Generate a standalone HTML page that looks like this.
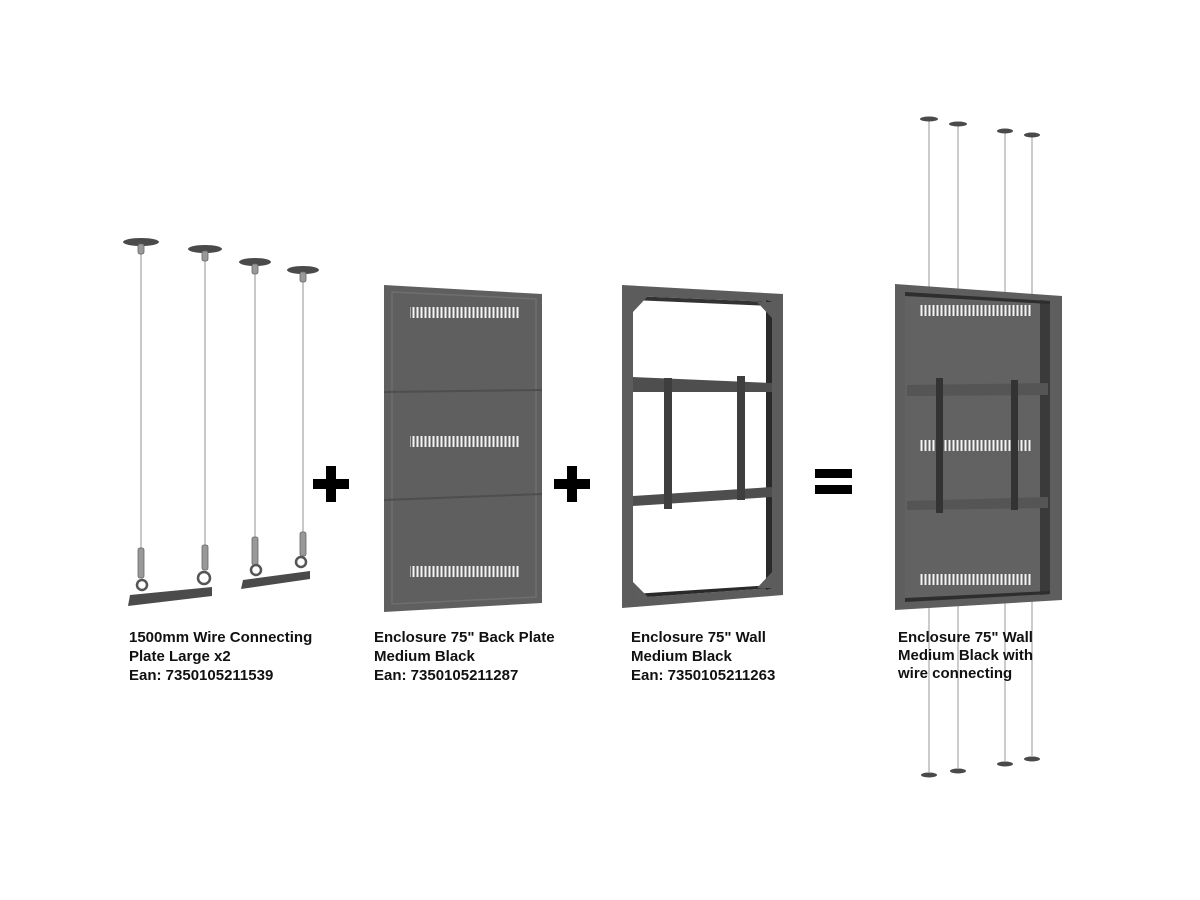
<!DOCTYPE html>
<html><head><meta charset="utf-8"><style>
html,body{margin:0;padding:0;background:#fff;width:1200px;height:900px;overflow:hidden}
text{font-family:"Liberation Sans",Arial,sans-serif;font-weight:bold;font-size:15px;fill:#111}
</style></head><body>
<svg width="1200" height="900" viewBox="0 0 1200 900" xmlns="http://www.w3.org/2000/svg">
<defs>
<pattern id="vent" width="4" height="20" patternUnits="userSpaceOnUse"><rect width="4" height="20" fill="#5e5e5e"/><rect x="0.5" width="2" height="20" fill="#f4f4f4"/></pattern>
</defs>
<!-- Wire kit -->
<g stroke="#bbb" stroke-width="1.6">
<line x1="141" y1="245" x2="141" y2="575"/><line x1="205" y1="252" x2="205" y2="565"/>
<line x1="255" y1="265" x2="255" y2="560"/><line x1="303" y1="273" x2="303" y2="555"/>
</g>
<g fill="#4a4a4a">
<ellipse cx="141" cy="242" rx="18" ry="4"/><ellipse cx="205" cy="249" rx="17" ry="4"/>
<ellipse cx="255" cy="262" rx="16" ry="4"/><ellipse cx="303" cy="270" rx="16" ry="4"/>
</g>
<g fill="#999" stroke="#666" stroke-width="0.8">
<rect x="138" y="244" width="6" height="10" rx="2"/><rect x="202" y="251" width="6" height="10" rx="2"/>
<rect x="252" y="264" width="6" height="10" rx="2"/><rect x="300" y="272" width="6" height="10" rx="2"/>
<rect x="138" y="548" width="6" height="30" rx="2"/><rect x="202" y="545" width="6" height="25" rx="2"/>
<rect x="252" y="537" width="6" height="28" rx="2"/><rect x="300" y="532" width="6" height="24" rx="2"/>
</g>
<g fill="none" stroke="#555" stroke-width="2.5">
<circle cx="142" cy="585" r="5"/><circle cx="204" cy="578" r="6"/><circle cx="256" cy="570" r="5"/><circle cx="301" cy="562" r="5"/>
</g>
<polygon points="130,595 212,587 212,596 128,606" fill="#4b4b4b"/>
<polygon points="243,580 310,571 310,579 241,589" fill="#4b4b4b"/>
<!-- plus 1 -->
<rect x="313" y="479" width="36" height="10" fill="#000"/><rect x="326" y="466" width="10" height="36" fill="#000"/>
<!-- Back plate -->
<polygon points="384,285 542,294 542,603 384,612" fill="#5f5f5f"/>
<polygon points="392,292 536,299 536,597 392,604" fill="none" stroke="#6e6e6e" stroke-width="1.5"/>
<line x1="384" y1="392" x2="542" y2="390" stroke="#4e4e4e" stroke-width="2"/>
<line x1="384" y1="500" x2="542" y2="494" stroke="#4e4e4e" stroke-width="2"/>
<rect x="410" y="307" width="110" height="11" fill="url(#vent)"/>
<rect x="410" y="436" width="110" height="11" fill="url(#vent)"/>
<rect x="410" y="566" width="110" height="11" fill="url(#vent)"/>
<!-- plus 2 -->
<rect x="554" y="479" width="36" height="10" fill="#000"/><rect x="567" y="466" width="10" height="36" fill="#000"/>
<!-- Wall frame -->
<polygon points="622,285 783,294 783,595 622,608" fill="#5c5c5c"/>
<polygon points="633,296 772,302 772,588 633,598" fill="#fff"/>
<polygon points="766,300 772,302 772,588 766,590" fill="#2a2a2a"/>
<polygon points="633,296 772,302 772,306 633,300" fill="#333"/>
<polygon points="633,594 772,585 772,588 633,598" fill="#2a2a2a"/>
<polygon points="633,377 772,383 772,392 633,392" fill="#4e4e4e"/>
<polygon points="633,496 772,487 772,497 633,506" fill="#4e4e4e"/>
<rect x="664" y="378" width="8" height="131" fill="#3e3e3e"/>
<rect x="737" y="376" width="8" height="124" fill="#3e3e3e"/>
<g fill="#5c5c5c"><polygon points="633,296 648,296 633,312"/><polygon points="772,302 757,302 772,318"/><polygon points="633,598 633,582 648,597"/><polygon points="772,588 772,572 757,588"/></g>
<!-- equals -->
<rect x="815" y="469" width="37" height="9" fill="#000"/><rect x="815" y="485" width="37" height="9" fill="#000"/>
<!-- final wires -->
<g stroke="#bbb" stroke-width="1.5">
<line x1="929" y1="121" x2="929" y2="290"/><line x1="958" y1="126" x2="958" y2="290"/>
<line x1="1005" y1="133" x2="1005" y2="292"/><line x1="1032" y1="137" x2="1032" y2="295"/>
<line x1="929" y1="608" x2="929" y2="772"/><line x1="958" y1="606" x2="958" y2="768"/>
<line x1="1005" y1="603" x2="1005" y2="761"/><line x1="1032" y1="601" x2="1032" y2="756"/>
</g>
<g fill="#4a4a4a">
<ellipse cx="929" cy="119" rx="9" ry="2.5"/><ellipse cx="958" cy="124" rx="9" ry="2.5"/>
<ellipse cx="1005" cy="131" rx="8" ry="2.5"/><ellipse cx="1032" cy="135" rx="8" ry="2.5"/>
<ellipse cx="929" cy="775" rx="8" ry="2.5"/><ellipse cx="958" cy="771" rx="8" ry="2.5"/>
<ellipse cx="1005" cy="764" rx="8" ry="2.5"/><ellipse cx="1032" cy="759" rx="8" ry="2.5"/>
</g>
<!-- final enclosure -->
<polygon points="895,284 1062,296 1062,600 895,610" fill="#5e5e5e"/>
<polygon points="905,292 1050,301 1050,594 905,602" fill="#626262"/>
<polygon points="1040,300 1050,301 1050,594 1040,595" fill="#3a3a3a"/>
<polygon points="905,292 1050,301 1050,304 905,296" fill="#2e2e2e"/>
<polygon points="905,598 1050,591 1050,594 905,602" fill="#2e2e2e"/>
<rect x="920" y="305" width="112" height="11" fill="url(#vent)"/>
<rect x="920" y="440" width="112" height="11" fill="url(#vent)"/>
<rect x="920" y="574" width="112" height="11" fill="url(#vent)"/>
<polygon points="907,385 1048,383 1048,395 907,396" fill="#555"/>
<polygon points="907,501 1048,497 1048,508 907,510" fill="#555"/>
<rect x="936" y="378" width="7" height="135" fill="#333"/>
<rect x="1011" y="380" width="7" height="130" fill="#333"/>
<!-- labels -->
<text x="129" y="642">1500mm Wire Connecting</text>
<text x="129" y="661">Plate Large x2</text>
<text x="129" y="680">Ean: 7350105211539</text>
<text x="374" y="642">Enclosure 75" Back Plate</text>
<text x="374" y="661">Medium Black</text>
<text x="374" y="680">Ean: 7350105211287</text>
<text x="631" y="642">Enclosure 75" Wall</text>
<text x="631" y="661">Medium Black</text>
<text x="631" y="680">Ean: 7350105211263</text>
<text x="898" y="642">Enclosure 75" Wall</text>
<text x="898" y="660">Medium Black with</text>
<text x="898" y="678">wire connecting</text>
</svg>
</body></html>
